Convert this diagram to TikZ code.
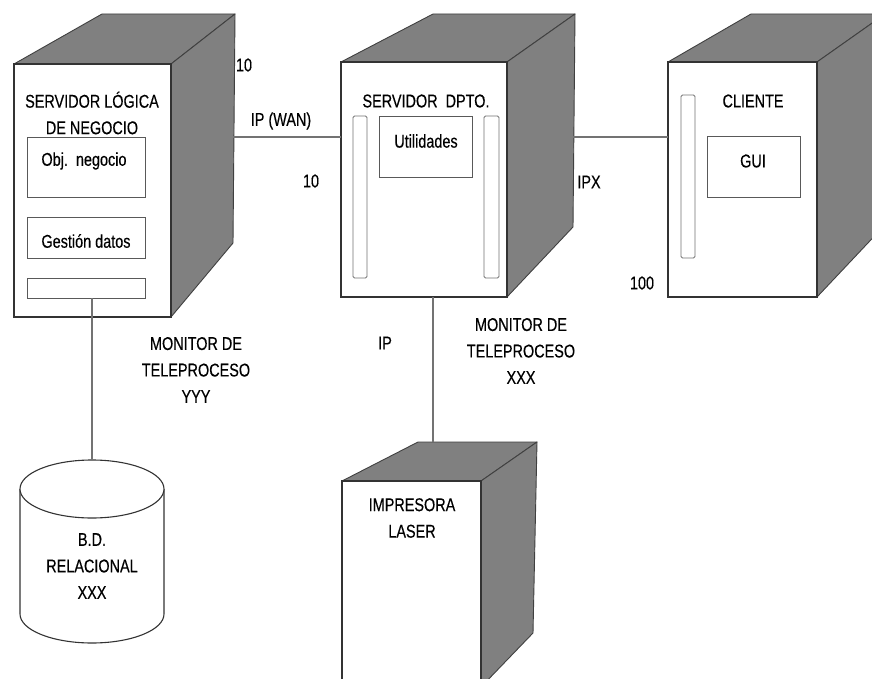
\documentclass[tikz,border=0pt]{standalone}
\usepackage{fontspec}
\setmainfont[FakeStretch=0.78,FakeBold=0.3]{Liberation Sans}
\begin{document}
\begin{tikzpicture}[x=1pt,y=-1pt,
  face/.style={draw=black!80, line width=1.1pt, fill=white, inner sep=0pt, outer sep=0pt, anchor=north west},
  shade/.style={draw=black!75, line width=0.9pt, fill=black!50, line join=round},
  inbox/.style={draw=black!65, line width=0.9pt, fill=white, inner sep=0pt, outer sep=0pt, anchor=north west},
  bar/.style={draw=black!55, line width=0.9pt, rounded corners=1.5pt, fill=white, inner sep=0pt, outer sep=0pt, anchor=north west},
  link/.style={draw=black!55, line width=1.2pt},
  lbl/.style={font=\fontsize{18.5}{26.5}\selectfont, text=black, inner sep=0pt, align=center}]
\clip (0,0) rectangle (872,679);
\fill[white] (0,0) rectangle (872,679);

% ---------- left server ----------
\draw[shade] (14,64) -- (102,14) -- (235,14) -- (171,64) -- cycle;
\draw[shade] (171,64) -- (235,14) -- (233,243) -- (171,317) -- cycle;
\node[face, minimum width=157pt, minimum height=253pt] (ls) at (14,64) {};
\node[lbl] (lstitle) at (92,113) {SERVIDOR LÓGICA\\DE NEGOCIO};
\node[inbox, minimum width=118pt, minimum height=60pt] (obj) at (27,137) {};
\node[lbl] (objt) at (84,161) {Obj.~\ negocio};
\node[inbox, minimum width=118pt, minimum height=41pt] (gest) at (27,217) {};
\node[lbl] (gestt) at (86,241) {Gestión datos};
\node[inbox, minimum width=118pt, minimum height=20pt] (lsbar) at (27,278) {};

% ---------- middle server ----------
\draw[shade] (341,62) -- (433,14) -- (575,14) -- (507,62) -- cycle;
\draw[shade] (507,62) -- (575,14) -- (573,227) -- (507,297) -- cycle;
\node[face, minimum width=166pt, minimum height=235pt] (ms) at (341,62) {};
\node[lbl] (mstitle) at (426,101) {SERVIDOR~\ DPTO.};
\node[bar, minimum width=14pt, minimum height=162pt] (msbl) at (353,116) {};
\node[bar, minimum width=15pt, minimum height=162pt] (msbr) at (484,116) {};
\node[inbox, minimum width=93pt, minimum height=61pt] (util) at (379,116) {};
\node[lbl] (utilt) at (426,141) {Utilidades};

% ---------- client ----------
\draw[shade] (668,62) -- (751,14) -- (885,14) -- (817,62) -- cycle;
\draw[shade] (817,62) -- (885,14) -- (883,227) -- (817,297) -- cycle;
\node[face, minimum width=149pt, minimum height=235pt] (cl) at (668,62) {};
\node[bar, minimum width=14pt, minimum height=163pt] (clbar) at (681,95) {};
\node[lbl] (cltitle) at (753,101) {CLIENTE};
\node[inbox, minimum width=93pt, minimum height=61pt] (gui) at (707,136) {};
\node[lbl] (guit) at (753,161) {GUI};

% ---------- printer ----------
\draw[shade] (342,481) -- (418,442) -- (537,442) -- (481,481) -- cycle;
\draw[shade] (481,481) -- (537,442) -- (533,633) -- (481,687) -- cycle;
\node[face, minimum width=139pt, minimum height=215pt] (pr) at (342,481) {};
\node[lbl] (prt) at (412,518) {IMPRESORA\\LASER};

% ---------- database ----------
\draw[line width=1.1pt, draw=black!80, fill=white] (20,489) -- (20,614) arc[start angle=180, end angle=360, x radius=72pt, y radius=29pt] -- (164,489);
\draw[line width=1.1pt, draw=black!80, fill=white] (92,489) ellipse [x radius=72pt, y radius=29pt];
\coordinate (dbtop) at (92,460);
\node[lbl] (dbt) at (92,566) {B.D.\\RELACIONAL\\XXX};

% ---------- connectors ----------
\coordinate (lsE) at (233,137);
\coordinate (msE) at (573,137);
\coordinate (prTop) at (433,442);
\draw[link] (lsE) -- (ms.west |- lsE);
\draw[link] (msE) -- (cl.west |- msE);
\draw[link] (prTop |- ms.south) -- (prTop);
\draw[link] (dbtop |- lsbar.south) -- (dbtop);

% ---------- labels ----------
\node[lbl] (l10a) at (244,65) {10};
\node[lbl] (lwan) at (281,121) {IP (WAN)};
\node[lbl] (l10b) at (311,181) {10};
\node[lbl] (lipx) at (589,182) {IPX};
\node[lbl] (l100) at (642,283) {100};
\node[lbl] (lip) at (385,343) {IP};
\node[lbl] (mony) at (196,370) {MONITOR DE\\TELEPROCESO\\YYY};
\node[lbl] (monx) at (521,351) {MONITOR DE\\TELEPROCESO\\XXX};
\end{tikzpicture}
\end{document}
